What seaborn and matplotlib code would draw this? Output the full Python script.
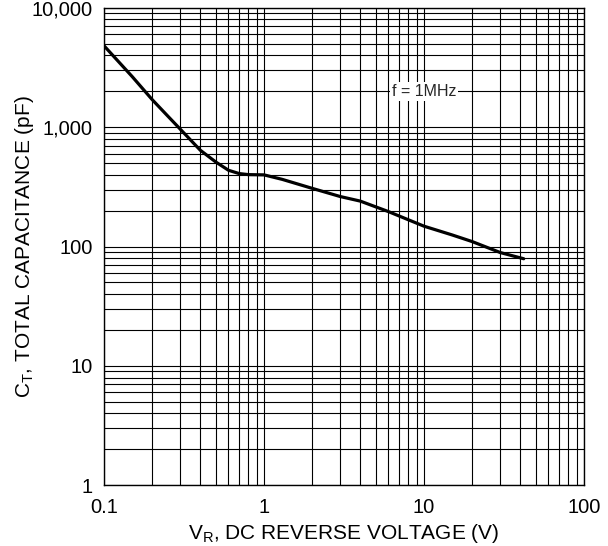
import numpy as np
import pandas as pd
import seaborn as sns
import matplotlib.pyplot as plt
from matplotlib.ticker import FixedLocator, NullFormatter, FuncFormatter

# curve
voltage = [0.1, 0.15, 0.2, 0.25, 0.3, 0.4, 0.5, 0.6, 0.7, 0.8, 1.0, 1.3, 2.0, 3.0, 4.0, 6.0, 10, 15, 20, 30, 42]
capacitance = [4800, 2650, 1700, 1240, 960, 640, 510, 435, 408, 400, 398, 365, 307, 262, 240, 196, 148, 125, 110, 89, 79]

x_ticks = [0.1, 1, 10, 100]
y_ticks = [1, 10, 100, 1000, 10000]

df = pd.DataFrame({'VR': voltage, 'CT': capacitance})

sns.set_theme(style='white')
plt.rcParams['font.family'] = ['Liberation Sans', 'DejaVu Sans']
plt.rcParams['mathtext.fontset'] = 'custom'
plt.rcParams['mathtext.rm'] = 'Liberation Sans'

fig = plt.figure(figsize=(6.08, 5.46), dpi=100)
ax = fig.add_axes([0.171, 0.111, 0.7895, 0.875])

sns.lineplot(data=df, x='VR', y='CT', color='black', linewidth=2.3, ax=ax)
ax.set_xscale('log')
ax.set_yscale('log')
ax.set_xlim(0.1, 100)
ax.set_ylim(1, 10000)

# full minor grid like graph paper
minor_x = [m * d for d in [0.1, 1, 10] for m in range(2, 10)]
minor_y = [m * d for d in [1, 10, 100, 1000] for m in range(2, 10)]
ax.xaxis.set_major_locator(FixedLocator(x_ticks))
ax.yaxis.set_major_locator(FixedLocator(y_ticks))
ax.xaxis.set_minor_locator(FixedLocator(minor_x))
ax.yaxis.set_minor_locator(FixedLocator(minor_y))
ax.xaxis.set_minor_formatter(NullFormatter())
ax.yaxis.set_minor_formatter(NullFormatter())
ax.xaxis.set_major_formatter(FuncFormatter(lambda v, p: '0.1' if v < 1 else f'{int(v):,}'))
ax.yaxis.set_major_formatter(FuncFormatter(lambda v, p: f'{int(v):,}'))
ax.grid(True, which='both', color='black', linewidth=0.8)
ax.set_axisbelow(True)
ax.tick_params(which='both', length=0, labelsize=14.5, colors='black')
ax.tick_params(axis='x', pad=9)
ax.tick_params(axis='y', pad=8)

for s in ax.spines.values():
    s.set_color('black')
    s.set_linewidth(1.0)

ax.text(10, 2000, 'f = 1MHz', fontsize=11.5, ha='center', va='center',
        bbox=dict(facecolor='white', edgecolor='none', pad=1.5))

ax.set_xlabel(r'V$_\mathregular{R}$, DC REVERSE VOLTAGE (V)', fontsize=15, color='black')
ax.set_ylabel(r'C$_\mathregular{T}$, TOTAL CAPACITANCE (pF)', fontsize=15, color='black')
ax.xaxis.set_label_coords(0.5, -0.077)
ax.yaxis.set_label_coords(-0.142, 0.5)

fig.savefig('out.png', dpi=100)
